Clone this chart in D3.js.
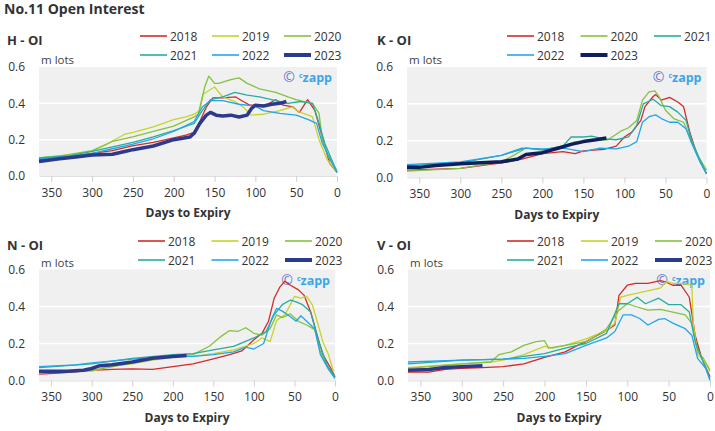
<!DOCTYPE html>
<html><head><meta charset="utf-8">
<script src="https://cdn.jsdelivr.net/npm/d3@7"></script>
<style>
body{margin:0;background:#fff;}
text{font-family:"Open Sans",sans-serif;}
</style></head>
<body><svg id="c" width="715" height="431"></svg>
<script>
// ---- data: [days to expiry, open interest (m lots)] ----
const years = ["2018","2019","2020","2021","2022","2023"];
const yTicks = [0, 0.2, 0.4, 0.6];
const xTicks = [350, 300, 250, 200, 150, 100, 50, 0];
const panelNames = ["H - OI", "K - OI", "N - OI", "V - OI"];

const H_2018 = [[365,0.09],[340,0.1],[300,0.125],[275,0.14],[251,0.166],[225,0.185],[200,0.21],[185,0.225],[175,0.24],[168,0.3],[160,0.38],[152,0.43],[140,0.43],[124,0.435],[115,0.41],[107,0.39],[87,0.39],[75,0.42],[66,0.39],[54,0.38],[46,0.35],[36,0.42],[27,0.36],[19,0.23],[9,0.07],[0,0.02]];
const H_2019 = [[365,0.1],[340,0.11],[320,0.12],[300,0.135],[280,0.18],[260,0.23],[250,0.24],[225,0.27],[200,0.31],[185,0.325],[175,0.34],[168,0.36],[164,0.45],[150,0.49],[140,0.435],[125,0.41],[115,0.38],[105,0.335],[90,0.34],[70,0.36],[55,0.38],[45,0.35],[35,0.335],[30,0.325],[22,0.2],[12,0.09],[0,0.02]];
const H_2020 = [[365,0.1],[340,0.11],[300,0.14],[275,0.19],[250,0.215],[225,0.245],[200,0.275],[175,0.325],[170,0.34],[162,0.49],[157,0.55],[150,0.51],[145,0.51],[130,0.53],[120,0.54],[110,0.51],[95,0.48],[75,0.46],[60,0.435],[50,0.42],[40,0.41],[30,0.4],[22,0.345],[18,0.2],[10,0.1],[0,0.03]];
const H_2021 = [[365,0.1],[330,0.11],[300,0.135],[275,0.16],[250,0.185],[225,0.215],[200,0.25],[175,0.29],[165,0.36],[155,0.42],[140,0.435],[125,0.46],[110,0.445],[95,0.435],[80,0.42],[60,0.4],[45,0.41],[30,0.4],[22,0.29],[15,0.18],[0,0.02]];
const H_2022 = [[365,0.095],[330,0.105],[300,0.125],[275,0.15],[250,0.175],[225,0.205],[200,0.245],[175,0.3],[165,0.38],[155,0.415],[140,0.415],[120,0.395],[100,0.385],[90,0.36],[70,0.345],[50,0.335],[35,0.31],[25,0.29],[18,0.18],[8,0.09],[0,0.02]];
const H_2023 = [[365,0.08],[340,0.095],[320,0.105],[300,0.115],[275,0.12],[260,0.135],[250,0.145],[225,0.165],[200,0.2],[180,0.215],[175,0.235],[168,0.29],[160,0.335],[155,0.35],[148,0.335],[140,0.33],[130,0.335],[120,0.325],[110,0.335],[105,0.37],[100,0.39],[90,0.385],[80,0.395],[70,0.4],[62,0.41]];

const K_2018 = [[365,0.04],[300,0.05],[250,0.08],[225,0.1],[200,0.13],[175,0.14],[160,0.13],[150,0.145],[125,0.153],[110,0.17],[100,0.22],[90,0.25],[80,0.31],[75,0.385],[65,0.44],[62,0.45],[55,0.42],[45,0.435],[35,0.41],[28,0.385],[20,0.24],[12,0.13],[0,0.02]];
const K_2020 = [[365,0.035],[300,0.05],[250,0.085],[235,0.12],[220,0.16],[200,0.15],[175,0.17],[160,0.195],[140,0.2],[120,0.205],[105,0.25],[95,0.27],[85,0.31],[78,0.42],[70,0.465],[63,0.47],[58,0.44],[50,0.365],[40,0.32],[28,0.3],[20,0.22],[10,0.115],[0,0.04]];
const K_2021 = [[365,0.065],[300,0.08],[250,0.12],[220,0.16],[200,0.15],[175,0.17],[165,0.22],[150,0.22],[140,0.225],[125,0.21],[110,0.205],[95,0.22],[85,0.285],[77,0.4],[65,0.425],[55,0.39],[45,0.385],[35,0.355],[25,0.31],[18,0.2],[8,0.095],[0,0.02]];
const K_2022 = [[365,0.07],[300,0.085],[250,0.12],[225,0.16],[200,0.155],[175,0.16],[150,0.14],[130,0.16],[110,0.155],[95,0.17],[85,0.195],[78,0.3],[70,0.33],[62,0.34],[55,0.32],[45,0.3],[35,0.3],[25,0.265],[18,0.185],[8,0.085],[0,0.02]];
const K_2023 = [[365,0.055],[350,0.055],[330,0.065],[300,0.075],[275,0.08],[250,0.085],[230,0.1],[220,0.125],[200,0.135],[180,0.16],[165,0.18],[150,0.195],[135,0.205],[122,0.215]];

const N_2018 = [[365,0.035],[340,0.04],[300,0.055],[275,0.06],[250,0.063],[225,0.06],[200,0.075],[175,0.09],[150,0.117],[130,0.14],[115,0.16],[100,0.22],[90,0.255],[82,0.32],[75,0.445],[68,0.505],[62,0.537],[55,0.515],[45,0.49],[38,0.46],[30,0.37],[22,0.245],[15,0.14],[5,0.065],[0,0.02]];
const N_2019 = [[365,0.05],[300,0.05],[280,0.075],[250,0.09],[225,0.11],[200,0.125],[175,0.13],[150,0.145],[125,0.165],[100,0.2],[90,0.23],[80,0.21],[72,0.325],[62,0.355],[55,0.41],[50,0.455],[42,0.445],[35,0.455],[28,0.41],[22,0.32],[15,0.21],[8,0.14],[2,0.05]];
const N_2020 = [[365,0.045],[300,0.055],[280,0.07],[250,0.095],[225,0.12],[200,0.135],[175,0.14],[155,0.185],[140,0.24],[130,0.27],[120,0.265],[110,0.285],[100,0.255],[90,0.245],[80,0.28],[72,0.355],[65,0.34],[55,0.36],[45,0.32],[35,0.3],[25,0.275],[18,0.155],[8,0.065],[0,0.02]];
const N_2021 = [[365,0.07],[300,0.09],[250,0.12],[200,0.14],[175,0.145],[150,0.165],[125,0.185],[100,0.23],[85,0.265],[75,0.355],[65,0.41],[55,0.435],[48,0.425],[40,0.41],[30,0.37],[20,0.21],[10,0.085],[0,0.02]];
const N_2022 = [[365,0.075],[320,0.085],[300,0.095],[250,0.115],[200,0.13],[175,0.13],[150,0.14],[125,0.155],[110,0.18],[100,0.17],[88,0.2],[78,0.335],[72,0.39],[65,0.375],[55,0.345],[48,0.32],[42,0.35],[35,0.32],[25,0.28],[18,0.14],[8,0.06],[0,0.01]];
const N_2023 = [[365,0.05],[330,0.05],[310,0.055],[300,0.065],[290,0.08],[275,0.085],[250,0.1],[225,0.12],[200,0.13],[183,0.135]];

const V_2018 = [[365,0.045],[340,0.045],[320,0.06],[300,0.065],[275,0.07],[250,0.075],[225,0.09],[200,0.125],[175,0.155],[160,0.19],[150,0.21],[140,0.235],[125,0.27],[115,0.3],[110,0.46],[100,0.515],[90,0.525],[75,0.525],[60,0.54],[55,0.535],[45,0.515],[35,0.515],[25,0.45],[18,0.245],[10,0.12],[0,0.02]];
const V_2019 = [[365,0.07],[300,0.09],[265,0.1],[250,0.11],[225,0.14],[200,0.185],[190,0.175],[175,0.19],[150,0.225],[125,0.27],[115,0.31],[108,0.45],[100,0.46],[85,0.475],[70,0.49],[60,0.5],[52,0.535],[45,0.525],[35,0.525],[22,0.515],[20,0.3],[15,0.14],[5,0.095],[0,0.06]];
const V_2020 = [[365,0.065],[300,0.09],[265,0.1],[255,0.14],[240,0.155],[225,0.19],[210,0.21],[200,0.215],[195,0.175],[175,0.19],[150,0.21],[140,0.235],[125,0.28],[110,0.38],[100,0.415],[90,0.4],[75,0.38],[60,0.385],[45,0.37],[30,0.355],[22,0.31],[15,0.155],[8,0.12],[0,0.05]];
const V_2021 = [[365,0.09],[300,0.11],[250,0.115],[225,0.13],[200,0.145],[175,0.175],[150,0.2],[125,0.255],[110,0.415],[100,0.415],[88,0.45],[78,0.415],[62,0.445],[50,0.41],[35,0.41],[25,0.37],[18,0.21],[10,0.12],[0,0.01]];
const V_2022 = [[365,0.1],[300,0.11],[250,0.115],[225,0.12],[200,0.13],[175,0.145],[150,0.19],[125,0.23],[115,0.265],[105,0.355],[95,0.355],[85,0.335],[75,0.3],[62,0.33],[55,0.335],[45,0.31],[30,0.28],[22,0.245],[15,0.12],[5,0.065],[0,0.0]];
const V_2023 = [[365,0.055],[340,0.06],[320,0.07],[300,0.075],[275,0.08]];

// ---- layout / styles ----
const baseColors = {"2018":"#d42a2a","2019":"#c6d42a","2020":"#84c23e","2021":"#26ad9e","2022":"#22a6e8","2023":"#2c3a8e"};
const panels = [
  {name:panelNames[0], left:39, right:337, top:67, bottom:176, tx:7, ty:45, legX:140, legY:36, legStep:72, navy:"#2c3a8e",
   series:{"2018":H_2018,"2019":H_2019,"2020":H_2020,"2021":H_2021,"2022":H_2022,"2023":H_2023}},
  {name:panelNames[1], left:407, right:706.5, top:67, bottom:177.5, tx:377, ty:45, legX:507, legY:36, legStep:73.5, navy:"#0e1f5c",
   series:{"2018":K_2018,"2020":K_2020,"2021":K_2021,"2022":K_2022,"2023":K_2023}},
  {name:panelNames[2], left:39, right:335, top:269.5, bottom:380.5, tx:7, ty:250, legX:138, legY:241, legStep:73.5, navy:"#2c3a8e",
   series:{"2018":N_2018,"2019":N_2019,"2020":N_2020,"2021":N_2021,"2022":N_2022,"2023":N_2023}},
  {name:panelNames[3], left:408, right:710, top:269.5, bottom:380.5, tx:377, ty:250, legX:507, legY:241, legStep:74, navy:"#2c3a8e",
   series:{"2018":V_2018,"2019":V_2019,"2020":V_2020,"2021":V_2021,"2022":V_2022,"2023":V_2023}}
];

const svg = d3.select("#c");
svg.append("text").attr("x",4).attr("y",14).attr("font-size",14).attr("font-weight",700).attr("fill","#333")
  .text("No.11 Open Interest");

panels.forEach(p => {
  const g = svg.append("g");
  const x = d3.scaleLinear().domain([365,0]).range([p.left,p.right]);
  const y = d3.scaleLinear().domain([0,0.6]).range([p.bottom,p.top]);
  const col = yr => yr === "2023" ? p.navy : baseColors[yr];

  g.append("rect").attr("x",p.left).attr("y",p.top).attr("width",p.right-p.left).attr("height",p.bottom-p.top).attr("fill","#f0f0f0");
  // grid
  g.selectAll(".grid").data(yTicks.filter(v=>v>0 && v<0.6)).join("line")
    .attr("x1",p.left).attr("x2",p.right).attr("y1",d=>y(d)).attr("y2",d=>y(d))
    .attr("stroke","#fff").attr("stroke-width",1.5);

  // x axis
  const xa = g.append("g").attr("transform",`translate(0,${p.bottom})`)
    .call(d3.axisBottom(x).tickValues(xTicks).tickSize(6).tickSizeOuter(0).tickPadding(6));
  xa.select(".domain").attr("stroke","#e0e0e0");
  xa.selectAll(".tick line").attr("stroke","#d0d0d0");
  xa.selectAll("text").attr("font-size",12).attr("fill","#333").attr("font-family","Open Sans");
  // y axis
  const ya = g.append("g").attr("transform",`translate(${p.left-14},0)`)
    .call(d3.axisLeft(y).tickValues(yTicks).tickFormat(d3.format(".1f")).tickSize(0).tickPadding(0));
  ya.select(".domain").remove();
  ya.selectAll("text").attr("font-size",12).attr("fill","#333").attr("font-family","Open Sans");

  g.append("text").attr("x",(p.left+p.right)/2).attr("y",p.bottom+41).attr("text-anchor","middle")
    .attr("font-size",12).attr("font-weight",700).attr("fill","#333").text("Days to Expiry");
  g.append("text").attr("x",p.left+2).attr("y",p.top-3).attr("font-size",11.5).attr("fill","#444").text("m lots");
  g.append("text").attr("x",p.tx).attr("y",p.ty).attr("font-size",13).attr("font-weight",700).attr("fill","#333").text(p.name);

  // copyright
  const cp = g.append("text").attr("x",p.right-5).attr("y",p.top+15).attr("text-anchor","end")
    .attr("font-size",12.5).attr("font-weight",700);
  cp.append("tspan").attr("fill","#6a78c8").attr("font-weight",400).attr("font-size",14).text("©");
  cp.append("tspan").attr("fill","#3aa6e8").attr("font-size",7).attr("dy",-4).attr("dx",4).text("c");
  cp.append("tspan").attr("fill","#3aa6e8").attr("dy",4).text("zapp");

  // lines
  const line = d3.line().x(d=>x(d[0])).y(d=>y(d[1]));
  const keys = Object.keys(p.series);
  keys.forEach(yr => {
    g.append("path").datum(p.series[yr]).attr("d",line).attr("fill","none")
      .attr("stroke",col(yr)).attr("stroke-width", yr==="2023"?3.5:1.3).attr("stroke-linejoin","round");
  });

  // legend
  keys.forEach((yr,i) => {
    const lx = p.legX + (i%3)*p.legStep, ly = p.legY + Math.floor(i/3)*19;
    g.append("line").attr("x1",lx).attr("x2",lx+27).attr("y1",ly).attr("y2",ly)
      .attr("stroke",col(yr)).attr("stroke-width", yr==="2023"?4:1.6);
    g.append("text").attr("x",lx+30).attr("y",ly+4.5).attr("font-size",12).attr("fill","#333").text(yr);
  });
});
</script></body></html>
